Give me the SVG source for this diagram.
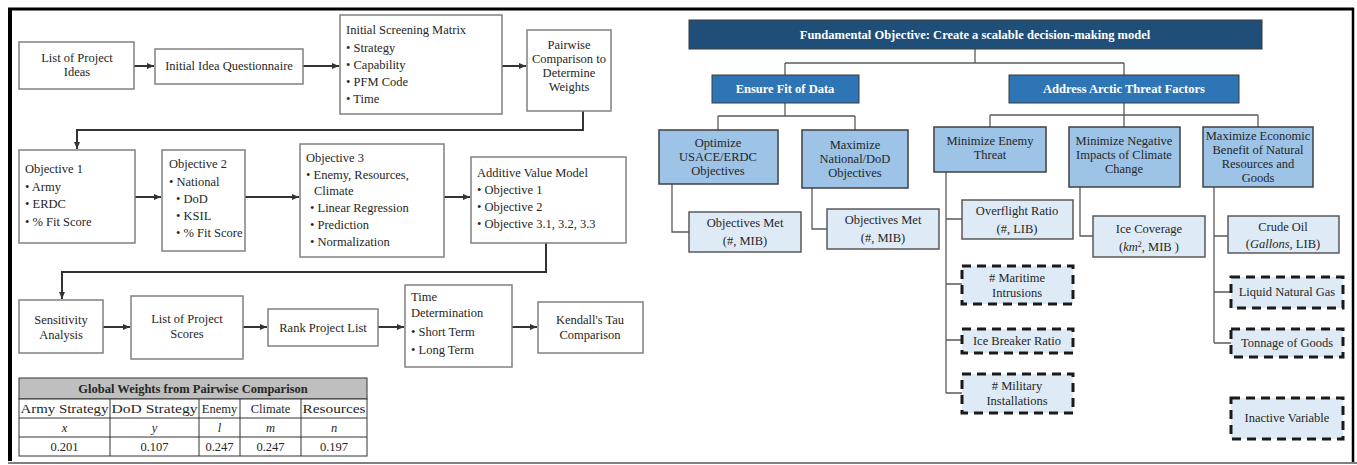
<svg xmlns="http://www.w3.org/2000/svg" width="1357" height="465" viewBox="0 0 1357 465" font-family="'Liberation Serif', 'DejaVu Serif', serif">
<defs>
<marker id="ah" markerWidth="8" markerHeight="8" refX="7" refY="4" orient="auto" markerUnits="userSpaceOnUse">
<path d="M0,1 L7,4 L0,7 z" fill="#333"/>
</marker>
<style>
text{font-family:'Liberation Serif',serif;font-size:12.5px;fill:#262626}
.c{text-anchor:middle}
.b{font-weight:bold}
.w{fill:#fff;font-weight:bold}
.box{fill:#fff;stroke:#808080;stroke-width:1.5}
.flow{fill:none;stroke:#333;stroke-width:2}
.tree{fill:none;stroke:#595959;stroke-width:1.3}
.navy{fill:#1f4e79;stroke:#3a3a3a;stroke-width:1}
.mid{fill:#2e75b6;stroke:#3a3a3a;stroke-width:1}
.lb{fill:#9dc3e6;stroke:#404040;stroke-width:1.5}
.pb{fill:#deebf7;stroke:#595959;stroke-width:1.5}
.db{fill:#deebf7;stroke:#1a1a1a;stroke-width:3;stroke-dasharray:9 6}
.tc{fill:#fff;stroke:#333;stroke-width:1}
.it{font-style:italic}
</style>
</defs>
<rect x="0" y="0" width="1357" height="465" fill="#fff"/>
<g id="frame">
<line x1="8" y1="9" x2="1354" y2="9" stroke="#000" stroke-width="3"/>
<line x1="10" y1="8" x2="10" y2="461" stroke="#000" stroke-width="4"/>
<line x1="1353" y1="8" x2="1353" y2="462" stroke="#000" stroke-width="2.5"/>
<line x1="8" y1="463" x2="1357" y2="463" stroke="#808080" stroke-width="2"/>
</g>

<g id="connectors">
<line class="flow" x1="134" y1="66" x2="154" y2="66" marker-end="url(#ah)"/>
<line class="flow" x1="303" y1="66" x2="339" y2="66" marker-end="url(#ah)"/>
<line class="flow" x1="502" y1="66" x2="526" y2="66" marker-end="url(#ah)"/>
<path class="flow" d="M583 111 V130 H77 V149" marker-end="url(#ah)"/>
<line class="flow" x1="135" y1="197" x2="161" y2="197" marker-end="url(#ah)"/>
<line class="flow" x1="245" y1="197" x2="299" y2="197" marker-end="url(#ah)"/>
<line class="flow" x1="444" y1="197" x2="470" y2="197" marker-end="url(#ah)"/>
<path class="flow" d="M546 243 V272 H62 V299" marker-end="url(#ah)"/>
<line class="flow" x1="103" y1="327" x2="130" y2="327" marker-end="url(#ah)"/>
<line class="flow" x1="243" y1="327" x2="267" y2="327" marker-end="url(#ah)"/>
<line class="flow" x1="378" y1="327" x2="404" y2="327" marker-end="url(#ah)"/>
<line class="flow" x1="512" y1="327" x2="537" y2="327" marker-end="url(#ah)"/>

<path class="tree" d="M975 49 V63 M785 63 H1124 M785 63 V75 M1124 63 V75"/>
<path class="tree" d="M785 103 V116 M718 116 H855 M718 116 V130 M855 116 V130"/>
<path class="tree" d="M1124 103 V115 M990 115 H1258 M990 115 V127 M1124 115 V127 M1258 115 V127"/>
<path class="tree" d="M672 184 V232 H689 M812 188 V229 H827"/>
<path class="tree" d="M946 172 V393 M946 219 H962 M946 284 H962 M946 340 H962 M946 393 H962"/>
<path class="tree" d="M1080 187 V236 H1093"/>
<path class="tree" d="M1214 187 V343 M1214 236 H1228 M1214 292 H1231 M1214 343 H1231"/>
</g>

<g id="n-list-ideas"><rect class="box" x="19" y="42" width="115" height="47"/>
<text class="c" x="77" y="62">List of Project</text><text class="c" x="77" y="76">Ideas</text></g>
<g id="n-questionnaire"><rect class="box" x="155" y="49" width="148" height="35"/>
<text class="c" x="229" y="70">Initial Idea Questionnaire</text></g>
<g id="n-screening"><rect class="box" x="340" y="15" width="162" height="99"/>
<text x="346" y="34">Initial Screening Matrix</text>
<text x="346" y="52">• Strategy</text><text x="346" y="69">• Capability</text><text x="346" y="86">• PFM Code</text><text x="346" y="103">• Time</text></g>
<g id="n-pairwise"><rect class="box" x="527" y="30" width="84" height="81"/>
<text class="c" x="569" y="49">Pairwise</text><text class="c" x="569" y="63">Comparison to</text><text class="c" x="569" y="77">Determine</text><text class="c" x="569" y="91">Weights</text></g>

<g id="n-obj1"><rect class="box" x="19" y="150" width="116" height="93"/>
<text x="25" y="173">Objective 1</text><text x="25" y="191">• Army</text><text x="25" y="208">• ERDC</text><text x="25" y="226">• % Fit Score</text></g>
<g id="n-obj2"><rect class="box" x="162" y="150" width="83" height="101"/>
<text x="169" y="168">Objective 2</text><text x="169" y="186">• National</text><text x="176" y="203">• DoD</text><text x="176" y="220">• KSIL</text><text x="176" y="237">• % Fit Score</text></g>
<g id="n-obj3"><rect class="box" x="300" y="144" width="144" height="113"/>
<text x="306" y="162">Objective 3</text><text x="306" y="179">• Enemy, Resources,</text><text x="314" y="195">Climate</text>
<text x="310" y="212">• Linear Regression</text><text x="310" y="229">• Prediction</text><text x="310" y="246">• Normalization</text></g>
<g id="n-additive"><rect class="box" x="471" y="157" width="155" height="86"/>
<text x="477" y="177">Additive Value Model</text><text x="477" y="194">• Objective 1</text><text x="477" y="211">• Objective 2</text><text x="477" y="228">• Objective 3.1, 3.2, 3.3</text></g>

<g id="n-sensitivity"><rect class="box" x="19" y="300" width="84" height="53"/>
<text class="c" x="61" y="324">Sensitivity</text><text class="c" x="61" y="339">Analysis</text></g>
<g id="n-scores"><rect class="box" x="131" y="296" width="112" height="63"/>
<text class="c" x="187" y="323">List of Project</text><text class="c" x="187" y="338">Scores</text></g>
<g id="n-rank"><rect class="box" x="268" y="309" width="110" height="37"/>
<text class="c" x="323" y="332">Rank Project List</text></g>
<g id="n-time"><rect class="box" x="405" y="285" width="107" height="82"/>
<text x="411" y="301">Time</text><text x="411" y="317">Determination</text><text x="411" y="336">• Short Term</text><text x="411" y="354">• Long Term</text></g>
<g id="n-kendall"><rect class="box" x="538" y="302" width="105" height="51"/>
<text class="c" x="590" y="324">Kendall's Tau</text><text class="c" x="590" y="339">Comparison</text></g>

<g id="weights-table">
<rect x="19" y="378" width="348" height="21" fill="#bfbfbf" stroke="#333" stroke-width="1"/>
<rect class="tc" x="19" y="399" width="348" height="57"/>
<path d="M19 418 H367 M19 437 H367 M110 399 V456 M199 399 V456 M240 399 V456 M301 399 V456" stroke="#333" stroke-width="1" fill="none"/>
<text class="c b" x="193" y="393" font-size="13.5">Global Weights from Pairwise Comparison</text>
<text class="c" x="64.5" y="413" textLength="88" lengthAdjust="spacingAndGlyphs">Army Strategy</text>
<text class="c" x="154.5" y="413" textLength="86" lengthAdjust="spacingAndGlyphs">DoD Strategy</text>
<text class="c" x="219.5" y="413">Enemy</text>
<text class="c" x="270.5" y="413">Climate</text>
<text class="c" x="334" y="413" textLength="63" lengthAdjust="spacingAndGlyphs">Resources</text>
<text class="c it" x="64.5" y="432">x</text><text class="c it" x="154.5" y="432">y</text><text class="c it" x="219.5" y="432">l</text><text class="c it" x="270.5" y="432">m</text><text class="c it" x="334" y="432">n</text>
<text class="c" x="64.5" y="451">0.201</text><text class="c" x="154.5" y="451">0.107</text><text class="c" x="219.5" y="451">0.247</text><text class="c" x="270.5" y="451">0.247</text><text class="c" x="334" y="451">0.197</text>
</g>

<g id="n-fundamental"><rect class="navy" x="689" y="20" width="573" height="29"/>
<text class="c w" x="975" y="39">Fundamental Objective:  Create a scalable decision-making model</text></g>
<g id="n-ensure"><rect class="mid" x="712" y="75" width="147" height="28"/>
<text class="c w" x="785" y="93">Ensure Fit of Data</text></g>
<g id="n-address"><rect class="mid" x="1009" y="75" width="230" height="28"/>
<text class="c w" x="1124" y="93">Address Arctic Threat Factors</text></g>

<g id="n-optimize"><rect class="lb" x="659" y="130" width="119" height="54"/>
<text class="c" x="718" y="147">Optimize</text><text class="c" x="718" y="161">USACE/ERDC</text><text class="c" x="718" y="175">Objectives</text></g>
<g id="n-maximize-nat"><rect class="lb" x="802" y="130" width="106" height="58"/>
<text class="c" x="855" y="149">Maximize</text><text class="c" x="855" y="163">National/DoD</text><text class="c" x="855" y="177">Objectives</text></g>
<g id="n-min-enemy"><rect class="lb" x="934" y="127" width="112" height="45"/>
<text class="c" x="990" y="145">Minimize Enemy</text><text class="c" x="990" y="159">Threat</text></g>
<g id="n-min-climate"><rect class="lb" x="1069" y="127" width="111" height="60"/>
<text class="c" x="1124" y="145">Minimize Negative</text><text class="c" x="1124" y="159">Impacts of Climate</text><text class="c" x="1124" y="173">Change</text></g>
<g id="n-max-econ"><rect class="lb" x="1203" y="127" width="110" height="60"/>
<text class="c" x="1258" y="140">Maximize Economic</text><text class="c" x="1258" y="154">Benefit of Natural</text><text class="c" x="1258" y="168">Resources and</text><text class="c" x="1258" y="182">Goods</text></g>

<g id="n-objmet1"><rect class="pb" x="689" y="212" width="112" height="40"/>
<text class="c" x="745" y="227">Objectives Met</text><text class="c" x="745" y="245">(#, MIB)</text></g>
<g id="n-objmet2"><rect class="pb" x="827" y="209" width="112" height="40"/>
<text class="c" x="883" y="224">Objectives Met</text><text class="c" x="883" y="242">(#, MIB)</text></g>
<g id="n-overflight"><rect class="pb" x="962" y="200" width="111" height="39"/>
<text class="c" x="1017" y="215">Overflight Ratio</text><text class="c" x="1017" y="233">(#, LIB)</text></g>
<g id="n-ice-coverage"><rect class="pb" x="1093" y="216" width="112" height="41"/>
<text class="c" x="1149" y="233">Ice Coverage</text><text class="c" x="1149" y="251">(<tspan class="it">km</tspan><tspan font-size="8" dy="-4">2</tspan><tspan dy="4">, MIB )</tspan></text></g>
<g id="n-crude"><rect class="pb" x="1228" y="216" width="111" height="37"/>
<text class="c" x="1283" y="231">Crude Oil</text><text class="c" x="1283" y="248">(<tspan class="it">Gallons</tspan>, LIB)</text></g>

<g id="n-maritime"><rect class="db" x="962" y="266" width="111" height="38"/>
<text class="c" x="1017" y="282"># Maritime</text><text class="c" x="1017" y="297">Intrusions</text></g>
<g id="n-icebreaker"><rect class="db" x="962" y="329" width="111" height="24"/>
<text class="c" x="1017" y="345">Ice Breaker Ratio</text></g>
<g id="n-military"><rect class="db" x="962" y="374" width="111" height="39"/>
<text class="c" x="1017" y="390"># Military</text><text class="c" x="1017" y="405">Installations</text></g>
<g id="n-lng"><rect class="db" x="1231" y="277" width="112" height="31"/>
<text class="c" x="1287" y="296">Liquid Natural Gas</text></g>
<g id="n-tonnage"><rect class="db" x="1231" y="329" width="112" height="28"/>
<text class="c" x="1287" y="347">Tonnage of Goods</text></g>
<g id="n-inactive"><rect class="db" x="1231" y="398" width="112" height="41"/>
<text class="c" x="1287" y="422">Inactive Variable</text></g>
</svg>
